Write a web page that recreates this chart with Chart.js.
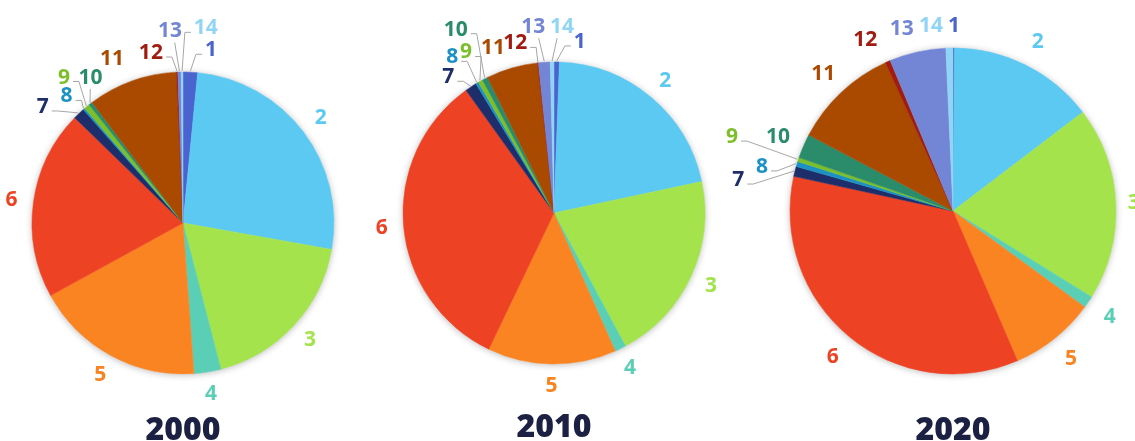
<!DOCTYPE html>
<html lang="en">
<head>
<meta charset="UTF-8">
<title>Shares by group: 2000, 2010, 2020</title>
<script src="https://cdn.jsdelivr.net/npm/chart.js@4.4.1/dist/chart.umd.min.js"></script>
<style>
  html, body { margin: 0; padding: 0; background: #fff; overflow: hidden; width: 1135px; height: 441px; }
  .pie { position: absolute; }
  .year {
    position: absolute;
    font-family: "Open Sans", sans-serif;
    font-weight: 800;
    font-size: 32px;
    line-height: 1;
    color: #1c2143;
    transform: translateX(-50%);
  }
</style>
</head>
<body>
<script>
  // group numbers, 1..14
  const groups = ['1', '2', '3', '4', '5', '6', '7', '8', '9', '10', '11', '12', '13', '14'];
  const years = ['2000', '2010', '2020'];

  // share of each group in percent
  const share2000 = [1.55, 26.3, 18.2, 2.9, 18.2, 20.3, 1.25, 0.2, 0.6, 0.4, 9.6, 0.15, 0.35, 0.2];
  const share2010 = [0.57, 21.1, 20.5, 1.2, 13.75, 33.0, 1.25, 0.3, 0.5, 0.6, 5.5, 0.1, 1.25, 0.4];
  const share2020 = [0.15, 14.5, 19.2, 1.2, 8.5, 34.9, 1.0, 0.5, 0.4, 2.4, 10.5, 0.5, 5.6, 0.7];

  const groupColors = [
    '#4a63ce', '#5bc9f1', '#a5e34d', '#5bcfb5', '#fa8322', '#ee4224', '#1e2e6b',
    '#1c92c4', '#7cbf2a', '#2a8c6b', '#aa4a00', '#a01b10', '#7386d5', '#90d5f5'
  ];

  // layout: pie centre, radius, label gap, title top
  const pieLayout = [
    { cx: 183, cy: 223, r: 151, gap: 22, titleTop: 412 },
    { cx: 554, cy: 213, r: 151, gap: 22, titleTop: 409 },
    { cx: 953, cy: 211, r: 163, gap: 26, titleTop: 412 }
  ];

  // hand-placed labels for the thin slices: [degrees from top, distance, leader line]
  const labelSpots = [
    { 0: [9.2, 175, 1], 13: [6.7, 196, 1], 12: [356.1, 192, 1], 11: [349.3, 173, 1], 10: [336.6, 179, 0],
      9: [327.5, 172, 1], 8: [320.7, 188, 1], 7: [317.4, 172, 1], 6: [309.6, 182, 1] },
    { 0: [8.6, 173, 1], 13: [2.5, 186, 1], 12: [353.6, 187, 1], 11: [347.1, 174, 1], 10: [339.7, 176, 0],
      9: [331.8, 208, 1], 8: [331.3, 183, 1], 7: [326.8, 186, 1], 6: [322.1, 172, 1] },
    { 0: [0.3, 185, 0], 2: [87.4, 181, 0], 13: [353.2, 186, 0], 12: [344.3, 189, 0], 11: [332.8, 192, 0],
      9: [292.9, 190, 0], 8: [288.5, 233, 1], 7: [283, 196, 1], 6: [278.2, 217, 1] }
  ];

  const CANVAS = 560;

  // soft shadow under the pie, then coloured number labels with grey leaders
  const pieLabels = {
    id: 'pieLabels',
    beforeDatasetsDraw(chart) {
      const arc = chart.getDatasetMeta(0).data[0];
      const ctx = chart.ctx;
      ctx.save();
      ctx.shadowColor = 'rgba(0,0,0,0.28)';
      ctx.shadowBlur = 7;
      ctx.shadowOffsetY = 1;
      ctx.fillStyle = '#fff';
      ctx.beginPath();
      ctx.arc(arc.x, arc.y, arc.outerRadius, 0, Math.PI * 2);
      ctx.fill();
      ctx.restore();
    },
    afterDatasetsDraw(chart, args, opts) {
      const ctx = chart.ctx;
      const meta = chart.getDatasetMeta(0);
      const colors = chart.data.datasets[0].backgroundColor;
      ctx.save();
      ctx.font = 'bold 21px "Open Sans"';
      ctx.textAlign = 'center';
      ctx.textBaseline = 'middle';
      meta.data.forEach((arc, i) => {
        const mid = (arc.startAngle + arc.endAngle) / 2;
        const r = arc.outerRadius;
        const spot = opts.spots[i];
        let ang = mid, dist = r + opts.gap;
        if (spot) {
          ang = (spot[0] - 90) * Math.PI / 180;
          dist = spot[1];
        }
        const lx = arc.x + Math.cos(ang) * dist;
        const ly = arc.y + Math.sin(ang) * dist;
        const text = chart.data.labels[i];

        if (spot && spot[2]) {
          const ex = arc.x + Math.cos(mid) * (r + 1);
          const ey = arc.y + Math.sin(mid) * (r + 1);
          const hw = ctx.measureText(text).width / 2 + 3;
          ctx.strokeStyle = '#a6a6a6';
          ctx.lineWidth = 1;
          ctx.beginPath();
          if (Math.abs(lx - ex) < hw) {
            ctx.moveTo(lx + (ex - lx) * 0.5, ly + (ey > ly ? 11 : -11));
            ctx.lineTo(ex, ey);
          } else {
            const side = ex > lx ? 1 : -1;
            const ax = lx + side * hw;
            const ay = ly + 4;
            ctx.moveTo(ax, ay);
            ctx.lineTo(ax + side * 6, ay);
            ctx.lineTo(ex, ey);
          }
          ctx.stroke();
        }

        ctx.fillStyle = colors[i];
        ctx.fillText(text, lx, ly);
      });
      ctx.restore();
    }
  };

  const allShares = [share2000, share2010, share2020];

  years.forEach((year, k) => {
    const lay = pieLayout[k];

    const wrap = document.createElement('div');
    wrap.className = 'pie';
    wrap.style.left = (lay.cx - CANVAS / 2) + 'px';
    wrap.style.top = (lay.cy - CANVAS / 2) + 'px';
    const canvas = document.createElement('canvas');
    canvas.width = CANVAS;
    canvas.height = CANVAS;
    wrap.appendChild(canvas);
    document.body.appendChild(wrap);

    const title = document.createElement('div');
    title.className = 'year';
    title.style.left = lay.cx + 'px';
    title.style.top = lay.titleTop + 'px';
    title.textContent = year;
    document.body.appendChild(title);

    new Chart(canvas.getContext('2d'), {
      type: 'pie',
      data: {
        labels: groups,
        datasets: [{
          data: allShares[k],
          backgroundColor: groupColors,
          borderColor: groupColors,
          borderWidth: 0.5,
          hoverOffset: 0,
          radius: lay.r
        }]
      },
      options: {
        responsive: false,
        animation: false,
        events: [],
        layout: { padding: 0 },
        plugins: {
          legend: { display: false },
          tooltip: { enabled: false },
          pieLabels: { spots: labelSpots[k], gap: lay.gap }
        }
      },
      plugins: [pieLabels]
    });
  });
</script>
</body>
</html>
